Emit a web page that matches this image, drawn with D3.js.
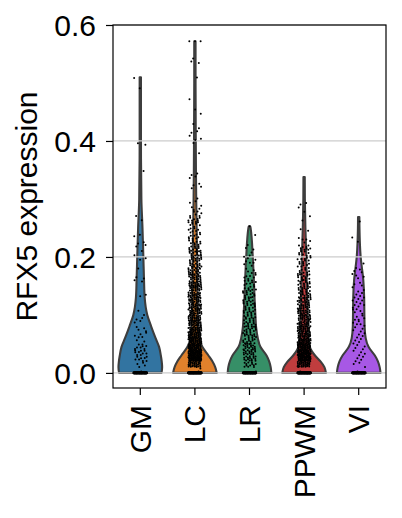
<!DOCTYPE html>
<html>
<head>
<meta charset="utf-8">
<script src="https://cdn.jsdelivr.net/npm/d3@7"></script>
<style>
  body { margin: 0; background: #fff; }
  svg { display: block; }
  text { font-family: "Liberation Sans", Arial, sans-serif; fill: #000; }
</style>
</head>
<body>
<div id="chart"></div>
<script>
var categories = ["GM", "LC", "LR", "PPWM", "VI"];
var yTicks = [0.0, 0.2, 0.4, 0.6];
var yLabel = "RFX5 expression";

// top of each violin (largest value)
var maxValues = [0.51, 0.572, 0.253, 0.338, 0.269];

// violin half-width (share of the widest part) at these levels
var profileLevels = [0, 0.01, 0.02, 0.03, 0.045, 0.06, 0.08, 0.1, 0.13, 0.16, 0.2, 0.25, 0.3, 0.4, 0.5, 0.6];
var profileGM   = [0.97, 1.0, 0.98, 0.94, 0.86, 0.7, 0.5, 0.32, 0.2, 0.17, 0.14, 0.1, 0.05, 0.03, 0.03, 0.03];
var profileLC   = [1.0, 0.93, 0.8, 0.62, 0.34, 0.2, 0.15, 0.13, 0.12, 0.11, 0.1, 0.08, 0.06, 0.04, 0.03, 0.03];
var profileLR   = [1.0, 0.97, 0.9, 0.78, 0.5, 0.38, 0.3, 0.27, 0.23, 0.2, 0.15, 0.05, 0.03, 0.03, 0.03, 0.03];
var profilePPWM = [1.0, 0.93, 0.75, 0.5, 0.26, 0.2, 0.17, 0.16, 0.14, 0.12, 0.1, 0.06, 0.035, 0.03, 0.03, 0.03];
var profileVI   = [1.0, 0.96, 0.88, 0.74, 0.45, 0.32, 0.27, 0.26, 0.25, 0.21, 0.09, 0.035, 0.03, 0.03, 0.03, 0.03];

// cells exactly at zero, and cells per 0.01-wide bin above zero
var zeroCounts = [60, 70, 60, 70, 60];
var binsGM   = [2,4,8,9,8,2,5,4,2,3,1,0,0,2,0,2,2,0,1,2,1,2,3,2,0,0,1,1,0,0,0,0,0,0,1,0,0,0,0,2,0,0,0,0,0,0,0,0,0,1,1];
var binsLC   = [3,32,65,60,55,45,40,34,30,28,26,25,24,24,22,22,20,18,16,15,15,12,10,9,8,7,9,6,4,2,1,1,3,2,2,0,0,1,0,1,3,2,2,0,1,1,0,1,0,0,1,0,0,2,1,0,0,3];
var binsLR   = [2,12,16,16,16,14,14,13,12,12,12,11,10,11,10,9,6,5,3,4,3,2,1,1,0,1];
var binsPPWM = [2,35,60,55,48,40,32,28,25,24,22,20,18,16,15,13,12,10,9,9,8,10,3,2,2,0,1,2,1,2];
var binsVI   = [1,3,4,4,4,4,4,4,5,5,5,5,5,4,3,3,3,4,2,0,0,0,1,1,0,0,1];

var profiles = [profileGM, profileLC, profileLR, profilePPWM, profileVI];
var bins = [binsGM, binsLC, binsLR, binsPPWM, binsVI];
var colors = ["#3274a1", "#e1812c", "#368f67", "#c03d3e", "#a758e5"];

var width = 402, height = 518;
var plotLeft = 113, plotRight = 386, plotTop = 25, plotBottom = 388;

var svg = d3.select("#chart").append("svg")
    .attr("width", width)
    .attr("height", height);

var x = d3.scaleBand().domain(categories).range([plotLeft, plotRight]).padding(0);
var y = d3.scaleLinear().domain([-0.026, 0.6]).range([plotBottom, plotTop]);
var bw = x.bandwidth();
var halfMax = bw * 0.4;
var jitter = bw * 0.12;

function frac(v) { return v - Math.floor(v); }

// violins
var area = d3.area()
    .y(function (d) { return y(d[0]); })
    .curve(d3.curveMonotoneY);

categories.forEach(function (c, i) {
    var cx = x(c) + bw / 2;
    var pts = [];
    profileLevels.forEach(function (v, k) {
        if (v < maxValues[i]) pts.push([v, profiles[i][k]]);
    });
    pts.push([maxValues[i], 0.03]);
    area.x0(function (d) { return cx - d[1] * halfMax; })
        .x1(function (d) { return cx + d[1] * halfMax; });
    svg.append("path")
        .attr("d", area(pts))
        .attr("fill", colors[i])
        .attr("stroke", "#3d3d3d")
        .attr("stroke-width", 2.1)
        .attr("stroke-linejoin", "round");
});

// grid
svg.append("g").selectAll("line")
    .data(yTicks)
    .enter().append("line")
    .attr("x1", plotLeft).attr("x2", plotRight)
    .attr("y1", function (d) { return y(d); })
    .attr("y2", function (d) { return y(d); })
    .attr("stroke", "#cccccc")
    .attr("stroke-width", 1.2);

// points
categories.forEach(function (c, i) {
    var cx = x(c) + bw / 2;
    var g = svg.append("g");
    var dots = [];
    for (var j = 0; j < zeroCounts[i]; j++) {
        dots.push({ v: 0, dx: (frac(j * 0.6180339887 + i * 0.37) - 0.5) * 2 * jitter, r: 1.3 });
    }
    var n = 0;
    bins[i].forEach(function (count, k) {
        for (var j = 0; j < count; j++) {
            n++;
            var v = Math.min((k + frac(n * 0.7548776662 + 0.5)) * 0.01, maxValues[i]);
            dots.push({ v: v, dx: (frac(n * 0.5698402910 + i * 0.21) - 0.5) * 2 * jitter, r: 1.0 });
        }
    });
    g.selectAll("circle")
        .data(dots)
        .enter().append("circle")
        .attr("cx", function (d) { return cx + d.dx; })
        .attr("cy", function (d) { return y(d.v); })
        .attr("r", function (d) { return d.r; })
        .attr("fill", "#000");
});

// axes
var fontSize = 30;
var yAxis = svg.append("g")
    .attr("transform", "translate(" + plotLeft + ",0)")
    .call(d3.axisLeft(y).tickValues(yTicks).tickSize(7).tickPadding(10).tickFormat(d3.format(".1f")));
yAxis.select(".domain").remove();
yAxis.selectAll("line").attr("stroke", "#000").attr("stroke-width", 1.2);
yAxis.selectAll("text").style("font-size", fontSize + "px").attr("dy", "0.35em");

var xAxis = svg.append("g")
    .attr("transform", "translate(0," + plotBottom + ")")
    .call(d3.axisBottom(x).tickSize(7).tickPadding(10));
xAxis.select(".domain").remove();
xAxis.selectAll("line").attr("stroke", "#000").attr("stroke-width", 1.2);
xAxis.selectAll("text")
    .style("font-size", fontSize + "px")
    .attr("transform", "rotate(-90)")
    .attr("x", -17)
    .attr("y", 0)
    .attr("dy", "0.35em")
    .style("text-anchor", "end");

svg.append("rect")
    .attr("x", plotLeft).attr("y", plotTop)
    .attr("width", plotRight - plotLeft).attr("height", plotBottom - plotTop)
    .attr("fill", "none")
    .attr("stroke", "#000")
    .attr("stroke-width", 1.2);

svg.append("text")
    .attr("transform", "translate(37," + ((plotTop + plotBottom) / 2) + ") rotate(-90)")
    .style("text-anchor", "middle")
    .style("font-size", fontSize + "px")
    .text(yLabel);
</script>
</body>
</html>
